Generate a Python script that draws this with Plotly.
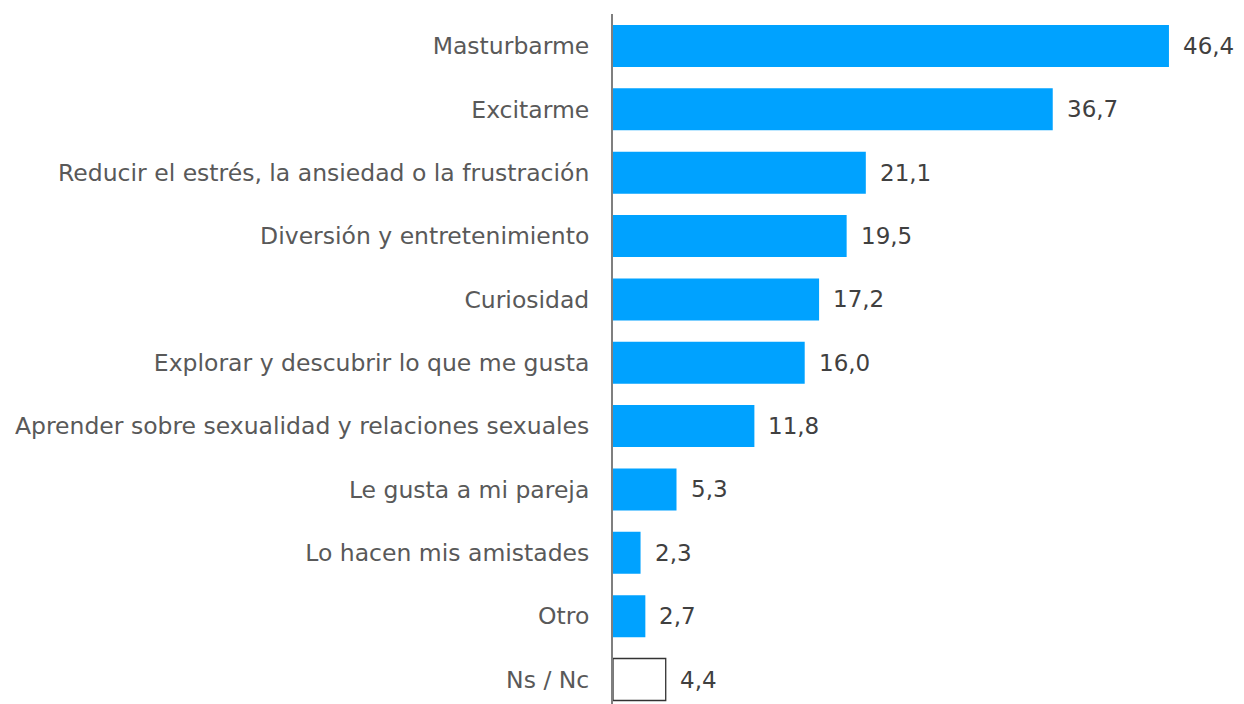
import plotly.graph_objects as go

categories = ["Masturbarme", "Excitarme", "Reducir el estrés, la ansiedad o la frustración",
              "Diversión y entretenimiento", "Curiosidad", "Explorar y descubrir lo que me gusta",
              "Aprender sobre sexualidad y relaciones sexuales", "Le gusta a mi pareja",
              "Lo hacen mis amistades", "Otro", "Ns / Nc"]
values = [46.4, 36.7, 21.1, 19.5, 17.2, 16.0, 11.8, 5.3, 2.3, 2.7, 4.4]

blue = "#00A2FF"
fills = [blue] * 10 + ["#FFFFFF"]
outlines = [blue] * 10 + ["#333333"]
outline_w = [0] * 10 + [1.3]

fig = go.Figure()
fig.add_trace(go.Bar(
    x=values, y=categories, orientation="h",
    marker=dict(color=fills, line=dict(color=outlines, width=outline_w)),
    hoverinfo="skip",
))

for c, v in zip(categories, values):
    fig.add_annotation(x=v, y=c, text=f"{v:.1f}".replace(".", ","), showarrow=False,
                       xanchor="left", xshift=12, yshift=0,
                       font=dict(family="DejaVu Sans", size=23, color="#404040"))

fig.update_layout(
    width=1244, height=704,
    margin=dict(l=605, r=0, t=6, b=0),
    paper_bgcolor="white", plot_bgcolor="white",
    bargap=0.337, showlegend=False,
    font=dict(family="DejaVu Sans", size=23, color="#595959"),
)
fig.update_xaxes(range=[0, 53.33], visible=False)
fig.update_yaxes(range=[10.513, -0.505], showline=True, linecolor="#7F7F7F", linewidth=2,
                 ticks="", showgrid=False, zeroline=False, ticklabelstandoff=17,
                 tickfont=dict(family="DejaVu Sans", size=23.5, color="#595959"))

fig.write_html("out.html")
